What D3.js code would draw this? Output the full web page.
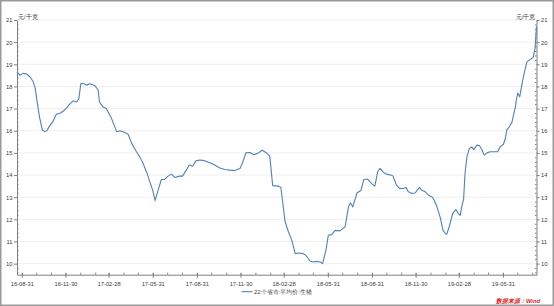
<!DOCTYPE html>
<html><head><meta charset="utf-8">
<script src="https://cdn.jsdelivr.net/npm/d3@7"></script>
<style>
html,body{margin:0;padding:0;background:#fff;}
svg{display:block;}
text{font-family:"Liberation Sans",Arial,sans-serif;}
</style></head>
<body><svg id="c" width="554" height="306"></svg>
<script>
const dates = ["2016-08-21","2016-08-27","2016-09-03","2016-09-10","2016-09-17","2016-09-24","2016-09-28","2016-10-01","2016-10-07","2016-10-13","2016-10-18","2016-10-22","2016-10-28","2016-11-04","2016-11-11","2016-11-18","2016-11-25","2016-12-02","2016-12-09","2016-12-16","2016-12-23","2016-12-28","2017-01-01","2017-01-05","2017-01-13","2017-01-20","2017-01-30","2017-02-06","2017-02-09","2017-02-16","2017-02-23","2017-03-06","2017-03-17","2017-03-24","2017-04-03","2017-04-10","2017-04-17","2017-04-27","2017-05-04","2017-05-11","2017-05-18","2017-05-25","2017-05-31","2017-06-05","2017-06-11","2017-06-18","2017-06-25","2017-07-02","2017-07-09","2017-07-16","2017-07-26","2017-08-01","2017-08-09","2017-08-15","2017-08-22","2017-08-29","2017-09-06","2017-09-16","2017-09-27","2017-10-07","2017-10-18","2017-10-28","2017-11-08","2017-11-18","2017-11-29","2017-12-05","2017-12-11","2017-12-20","2017-12-28","2018-01-05","2018-01-14","2018-01-22","2018-01-30","2018-02-05","2018-02-16","2018-02-22","2018-03-03","2018-03-10","2018-03-17","2018-03-24","2018-03-31","2018-04-10","2018-04-15","2018-04-24","2018-05-01","2018-05-08","2018-05-15","2018-05-20","2018-05-27","2018-06-01","2018-06-08","2018-06-15","2018-06-25","2018-07-06","2018-07-13","2018-07-17","2018-07-22","2018-07-31","2018-08-08","2018-08-14","2018-08-22","2018-08-31","2018-09-06","2018-09-12","2018-09-17","2018-09-23","2018-09-30","2018-10-11","2018-10-14","2018-10-21","2018-10-28","2018-11-04","2018-11-10","2018-11-15","2018-11-22","2018-11-29","2018-12-03","2018-12-08","2018-12-13","2018-12-20","2018-12-27","2019-01-03","2019-01-06","2019-01-13","2019-01-20","2019-01-26","2019-01-31","2019-02-03","2019-02-10","2019-02-15","2019-02-22","2019-02-27","2019-03-03","2019-03-06","2019-03-10","2019-03-13","2019-03-17","2019-03-22","2019-03-27","2019-03-31","2019-04-07","2019-04-12","2019-04-17","2019-04-22","2019-04-28","2019-05-04","2019-05-15","2019-05-20","2019-05-25","2019-06-01","2019-06-05","2019-06-08","2019-06-14","2019-06-19","2019-06-22","2019-06-26","2019-06-28","2019-07-01","2019-07-05","2019-07-10","2019-07-15","2019-07-20","2019-07-27","2019-08-02","2019-08-06","2019-08-09"];
const values = [18.66,18.51,18.59,18.56,18.44,18.21,17.91,17.45,16.6,16.02,15.96,16.0,16.22,16.42,16.75,16.78,16.88,17.02,17.2,17.35,17.3,17.45,18.12,18.14,18.06,18.12,18.04,17.85,17.3,17.08,17.0,16.56,15.95,16.0,15.92,15.83,15.43,15.05,14.82,14.52,14.14,13.69,13.31,12.84,13.31,13.8,13.8,13.95,14.04,13.89,13.95,13.95,14.22,14.45,14.4,14.64,14.68,14.65,14.55,14.45,14.32,14.25,14.22,14.2,14.3,14.6,15.0,15.02,14.92,14.98,15.12,15.02,14.85,13.52,13.5,13.45,11.88,11.43,11.05,10.45,10.48,10.45,10.38,10.12,10.07,10.1,10.07,10.0,10.6,11.28,11.31,11.5,11.48,11.66,12.56,12.75,12.56,13.2,13.3,13.8,13.82,13.6,13.5,14.15,14.3,14.14,14.04,13.99,13.95,13.54,13.39,13.39,13.44,13.24,13.17,13.19,13.31,13.44,13.31,13.24,13.09,13.01,12.94,12.6,12.11,11.51,11.36,11.33,11.81,12.26,12.44,12.26,12.18,12.56,12.9,14.07,14.82,15.2,15.27,15.15,15.35,15.33,15.15,14.9,15.0,15.05,15.05,15.05,15.27,15.39,15.65,16.03,16.2,16.4,16.71,17.08,17.4,17.7,17.53,18.14,18.66,19.11,19.22,19.31,19.72,20.7];
const xTickLabels = ["16-08-31","16-11-30","17-02-28","17-05-31","17-08-31","17-11-30","18-02-28","18-05-31","18-08-31","18-11-30","19-02-28","19-05-31"];
const yTicks = [10,11,12,13,14,15,16,17,18,19,20,21];
const seriesName = "22个省市:平均价:生猪";
const unitLabel = "元/千克";
const sourceLabel = "数据来源：Wind";

const parse = d3.timeParse("%Y-%m-%d");
const parseTick = d3.timeParse("%y-%m-%d");
const data = dates.map((d,i)=>({date:parse(d), value:values[i]}));

const svg = d3.select("#c");
const L = 17, R = 536.5, T = 20, B = 274.7;
const lineColor = "#4f81bd";

const x = d3.scaleTime().domain([parse("2016-08-21"), parse("2019-08-09")]).range([L, R]);
const y = d3.scaleLinear().domain([9.5, 21]).range([B, T]);

// border
svg.append("rect").attr("x",0.75).attr("y",0.75).attr("width",552.5).attr("height",304.5)
  .attr("fill","#fff").attr("stroke","#9a9a9a").attr("stroke-width",1.5);

// gridlines
svg.append("g").selectAll("line").data(yTicks).join("line")
  .attr("x1",L).attr("x2",R).attr("y1",d=>y(d)).attr("y2",d=>y(d))
  .attr("stroke","#efefef").attr("stroke-width",1);

const axisColor = "#7f7f7f", labelColor = "#404040";
function styleAxis(g){
  g.select(".domain").attr("stroke",axisColor);
  g.selectAll(".tick line").attr("stroke",axisColor);
  g.selectAll(".tick text").attr("fill",labelColor).attr("font-size","5.8px");
}

// minor y ticks
const yMinor = d3.range(9.6, 21.001, 0.2).filter(v=>Math.abs(v-Math.round(v))>0.01);
svg.append("g").attr("transform",`translate(${L},0)`)
  .call(d3.axisLeft(y).tickValues(yMinor).tickSize(-1.5).tickFormat(""))
  .call(g=>{g.select(".domain").remove(); g.selectAll("line").attr("stroke",axisColor);});
svg.append("g").attr("transform",`translate(${R},0)`)
  .call(d3.axisRight(y).tickValues(yMinor).tickSize(-1.5).tickFormat(""))
  .call(g=>{g.select(".domain").remove(); g.selectAll("line").attr("stroke",axisColor);});

// major y axes
svg.append("g").attr("transform",`translate(${L},0)`)
  .call(d3.axisLeft(y).tickValues(yTicks).tickSize(3).tickSizeOuter(0).tickPadding(1.5).tickFormat(d3.format("d")))
  .call(styleAxis);
svg.append("g").attr("transform",`translate(${R},0)`)
  .call(d3.axisRight(y).tickValues(yTicks).tickSize(3).tickSizeOuter(0).tickPadding(1.5).tickFormat(d3.format("d")))
  .call(styleAxis);

// minor x ticks (month ends)
const monthEnds = d3.timeMonth.range(parse("2016-09-01"), parse("2019-09-01")).map(d=>d3.timeDay.offset(d,-1))
  .filter(d=>d>=x.domain()[0] && d<=x.domain()[1]);
svg.append("g").attr("transform",`translate(0,${B})`)
  .call(d3.axisBottom(x).tickValues(monthEnds).tickSize(-2).tickFormat(""))
  .call(g=>{g.select(".domain").remove(); g.selectAll("line").attr("stroke",axisColor);});

// major x axis
const xTicks = xTickLabels.map(s=>parseTick(s));
svg.append("g").attr("transform",`translate(0,${B})`)
  .call(d3.axisBottom(x).tickValues(xTicks).tickSize(3).tickSizeOuter(0).tickPadding(4).tickFormat(d3.timeFormat("%y-%m-%d")))
  .call(styleAxis)
  .call(g=>g.selectAll(".tick line").attr("y1",-1.5));

// line
svg.append("path").datum(data)
  .attr("fill","none").attr("stroke",lineColor).attr("stroke-width",1.1).attr("stroke-linejoin","round")
  .attr("d", d3.line().x(d=>x(d.date)).y(d=>y(d.value)));

// unit labels
svg.append("text").attr("x",L+1).attr("y",18.5).attr("font-size","5.6px").attr("fill",labelColor).text(unitLabel);
svg.append("text").attr("x",R-1).attr("y",18.5).attr("text-anchor","end").attr("font-size","5.6px").attr("fill",labelColor).text(unitLabel);

// legend
svg.append("line").attr("x1",241.5).attr("x2",252.5).attr("y1",291.7).attr("y2",291.7)
  .attr("stroke",lineColor).attr("stroke-width",1.1);
svg.append("text").attr("x",254).attr("y",293.8).attr("font-size","6px").attr("fill",labelColor).text(seriesName);

// source
svg.append("text").attr("x",540).attr("y",303).attr("text-anchor","end").attr("font-size","5.8px")
  .attr("font-style","italic").attr("font-weight","bold").attr("fill","#e02020").text(sourceLabel);
</script></body></html>
